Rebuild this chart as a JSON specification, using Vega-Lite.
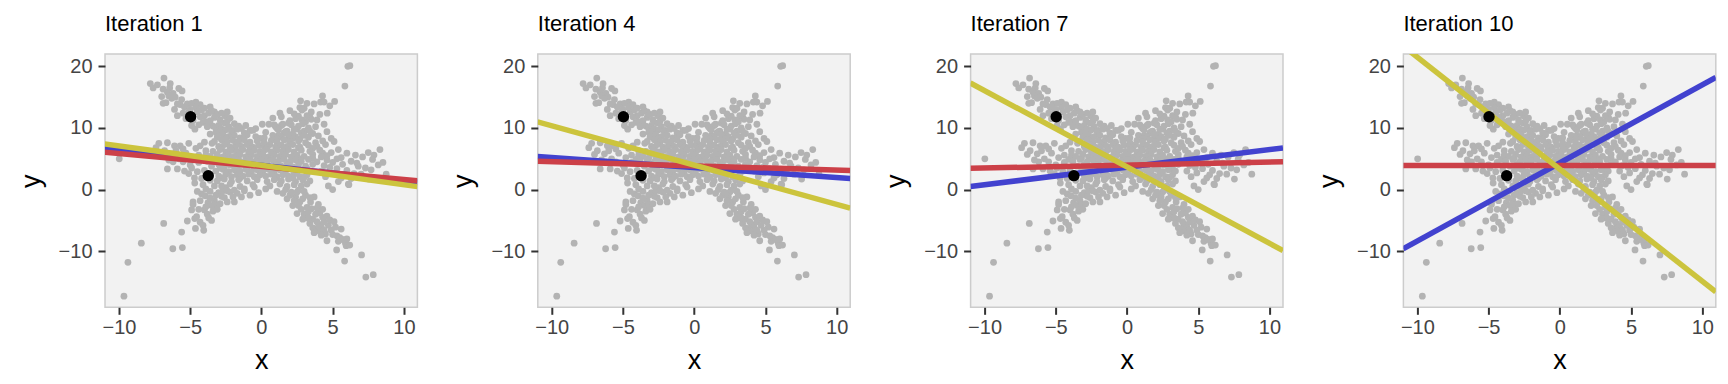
{
"$schema": "https://vega.github.io/schema/vega-lite/v6.json",
"background": "white",
"padding": {"left": 16, "top": 12, "right": 10, "bottom": 3},
"bounds": "flush",
"spacing": 119.8,
"config": {
  "view": {"fill": "#F2F2F2", "stroke": "#CCCCCC", "strokeWidth": 1.5},
  "title": {"anchor": "start", "frame": "group", "fontSize": 22, "font": "Liberation Sans", "fontWeight": "normal", "color": "#000000", "baseline": "alphabetic", "offset": 18},
  "axis": {"domain": false, "grid": false, "tickColor": "#333333", "tickWidth": 2, "tickSize": 7, "labelFont": "Liberation Sans", "labelFontSize": 20, "labelColor": "#444444", "titleFont": "Liberation Sans", "titleFontSize": 27, "titleFontWeight": "normal", "titleColor": "#000000", "labelFlush": false, "labelOverlap": false},
  "axisX": {"labelPadding": 3, "titlePadding": 10},
  "axisY": {"labelPadding": 6, "titlePadding": 13}
},
"datasets": {
  "pts": [
{"x":-9.65,"y":-17.3},{"x":-9.37,"y":-11.8},{"x":-8.43,"y":-8.7},{"x":-6.86,"y":-5.5},{"x":-6.22,"y":-9.6},{"x":-5.55,"y":-9.4},{"x":-5.6,"y":-6.9},{"x":-4.63,"y":-6.3},{"x":-4.05,"y":-6.6},{"x":-3.5,"y":-5.0},{"x":-4.68,"y":-4.7},{"x":-4.55,"y":-4.4},{"x":-4.8,"y":-2.0},{"x":-4.8,"y":-2.4},{"x":-4.2,"y":-0.7},{"x":-3.95,"y":-1.0},{"x":-3.75,"y":-2.1},{"x":-3.5,"y":-2.6},{"x":-3.3,"y":-1.8},{"x":-4.0,"y":-3.3},{"x":-3.9,"y":-2.8},{"x":-3.2,"y":-2.5},{"x":-2.9,"y":-2.3},{"x":-1.9,"y":-2.0},{"x":-1.4,"y":-1.2},{"x":-4.68,"y":1.05},{"x":-4.1,"y":0.8},{"x":-3.6,"y":-0.3},{"x":-3.0,"y":-0.5},{"x":-2.6,"y":-1.3},{"x":-2.2,"y":-0.4},{"x":-2.5,"y":0.3},{"x":-3.3,"y":0.6},{"x":-1.7,"y":-0.6},{"x":-3.8,"y":-4.0},{"x":-3.4,"y":-3.5},{"x":-4.4,"y":-3.2},
{"x":-2.0,"y":-1.2},{"x":-2.4,"y":-2.0},{"x":-2.8,"y":-1.1},{"x":-3.1,"y":-3.2},{"x":-3.6,"y":-1.4},{"x":-4.3,"y":-1.8},{"x":-4.5,"y":-0.3},{"x":-3.9,"y":0.1},{"x":-3.2,"y":-0.9},{"x":-2.7,"y":-0.2},{"x":-1.9,"y":-0.1},{"x":-4.9,"y":-3.3},{"x":-5.2,"y":-5.1},{"x":-4.3,"y":-5.3},{"x":-3.7,"y":-4.6},{"x":-4.1,"y":-5.8},
{"x":6.07,"y":20.0},{"x":6.21,"y":20.1},{"x":5.86,"y":16.8},{"x":4.29,"y":15.2},{"x":4.15,"y":14.2},{"x":4.4,"y":14.2},{"x":5.14,"y":14.3},{"x":4.62,"y":12.4},{"x":2.75,"y":14.4},{"x":2.7,"y":13.3},{"x":2.85,"y":12.9},{"x":3.0,"y":13.2},{"x":3.4,"y":11.8},{"x":3.5,"y":11.4},{"x":3.2,"y":12.0},{"x":3.1,"y":11.0},{"x":1.3,"y":12.4},{"x":1.4,"y":11.8},{"x":2.4,"y":11.5},{"x":2.6,"y":11.9},{"x":2.85,"y":11.3},{"x":4.4,"y":10.6},{"x":4.3,"y":7.9},{"x":3.6,"y":9.1},{"x":0.53,"y":10.6},{"x":0.9,"y":10.5},{"x":0.06,"y":10.6},{"x":1.0,"y":10.2},{"x":1.5,"y":10.6},{"x":1.9,"y":10.8},{"x":2.1,"y":10.5},{"x":3.8,"y":10.2},{"x":2.5,"y":9.8},{"x":3.0,"y":9.5},{"x":2.2,"y":9.0},{"x":1.6,"y":9.2},{"x":3.3,"y":8.5},{"x":4.0,"y":8.7},{"x":2.7,"y":8.2},{"x":1.2,"y":8.8},{"x":1.9,"y":8.1},
{"x":1.1,"y":9.9},{"x":1.4,"y":10.4},{"x":1.8,"y":9.5},{"x":2.0,"y":11.2},{"x":2.3,"y":12.3},{"x":2.6,"y":10.3},{"x":2.9,"y":10.7},{"x":3.3,"y":10.0},{"x":3.5,"y":12.6},{"x":3.9,"y":11.3},{"x":4.1,"y":12.2},{"x":3.7,"y":13.9},{"x":3.2,"y":14.0},{"x":2.0,"y":12.8},{"x":0.8,"y":11.6},{"x":4.8,"y":13.6},{"x":3.4,"y":9.5},{"x":4.6,"y":9.4},{"x":4.9,"y":8.3},{"x":3.8,"y":7.6},{"x":4.5,"y":7.3},{"x":5.1,"y":7.8},
{"x":-6.84,"y":18.1},{"x":-7.8,"y":17.2},{"x":-7.3,"y":17.0},{"x":-6.9,"y":16.3},{"x":-6.44,"y":16.5},{"x":-6.6,"y":15.8},{"x":-6.2,"y":15.6},{"x":-6.5,"y":15.2},{"x":-6.05,"y":15.0},{"x":-6.3,"y":14.8},{"x":-5.57,"y":16.0},{"x":-6.9,"y":14.0},{"x":-6.7,"y":14.1},{"x":-5.7,"y":13.8},{"x":-5.4,"y":13.4},{"x":-5.5,"y":12.4},{"x":-4.6,"y":14.2},{"x":-4.3,"y":13.8},{"x":-4.6,"y":13.3},{"x":-3.6,"y":13.4},{"x":-2.55,"y":12.0},{"x":-4.67,"y":9.8},{"x":-4.1,"y":10.9},{"x":-3.9,"y":11.0},{"x":-3.6,"y":10.6},{"x":-3.4,"y":10.3},{"x":-3.8,"y":10.2},{"x":-3.2,"y":10.0},{"x":-3.0,"y":10.4},{"x":-2.8,"y":9.8},{"x":-2.6,"y":10.8},{"x":-2.3,"y":10.2},{"x":-2.0,"y":9.6},{"x":-4.0,"y":12.0},{"x":-3.3,"y":11.7},{"x":-2.9,"y":11.3},{"x":-4.3,"y":11.8},{"x":-5.0,"y":13.0},{"x":-4.8,"y":11.2},
{"x":-5.9,"y":13.9},{"x":-5.6,"y":14.6},{"x":-5.2,"y":13.9},{"x":-5.1,"y":12.6},{"x":-4.9,"y":14.0},{"x":-4.5,"y":12.6},{"x":-4.2,"y":12.9},{"x":-4.0,"y":13.2},{"x":-3.7,"y":12.4},{"x":-3.5,"y":12.8},{"x":-3.3,"y":12.6},{"x":-3.1,"y":12.2},{"x":-2.8,"y":12.4},{"x":-2.4,"y":11.1},{"x":-2.2,"y":11.6},{"x":-1.9,"y":10.7},{"x":-1.6,"y":10.3},{"x":-1.4,"y":9.9},{"x":-1.1,"y":10.4},{"x":-0.8,"y":9.6},{"x":-0.4,"y":9.9},{"x":-3.6,"y":11.2},{"x":-4.4,"y":10.5},{"x":-5.3,"y":11.5},{"x":-4.9,"y":10.4},{"x":-5.9,"y":12.0},{"x":-6.1,"y":13.0},{"x":-5.8,"y":16.4},{"x":-7.0,"y":15.1},{"x":-7.6,"y":16.5},{"x":-6.4,"y":17.2},{"x":-3.2,"y":9.3},{"x":-3.6,"y":9.0},{"x":-2.4,"y":12.6},
{"x":7.33,"y":-14.2},{"x":7.85,"y":-13.8},{"x":7.03,"y":-10.6},{"x":5.84,"y":-11.6},{"x":5.28,"y":-9.8},{"x":5.9,"y":-8.7},{"x":5.95,"y":-9.1},{"x":5.4,"y":-8.4},{"x":5.3,"y":-7.5},{"x":5.5,"y":-7.8},{"x":5.2,"y":-6.1},{"x":4.6,"y":-8.3},{"x":4.5,"y":-7.2},{"x":4.9,"y":-6.6},{"x":4.2,"y":-6.0},{"x":4.0,"y":-5.6},{"x":3.8,"y":-6.4},{"x":3.4,"y":-5.5},{"x":3.1,"y":-4.6},{"x":3.6,"y":-4.8},{"x":4.4,"y":-5.2},{"x":4.7,"y":-5.8},{"x":3.0,"y":-4.0},{"x":3.3,"y":-3.6},{"x":2.8,"y":-3.2},{"x":2.5,"y":-3.9},{"x":3.7,"y":-1.2},{"x":3.45,"y":-2.0},{"x":4.1,"y":-3.8},{"x":4.3,"y":-4.5},{"x":2.2,"y":-2.6},{"x":2.7,"y":-2.0},{"x":3.9,"y":-3.0},{"x":1.8,"y":-1.5},{"x":2.4,"y":-1.2},{"x":4.1,"y":-6.8},{"x":3.6,"y":-6.2},
{"x":2.0,"y":-0.9},{"x":2.3,"y":-1.8},{"x":2.6,"y":-2.6},{"x":2.9,"y":-1.5},{"x":3.2,"y":-2.9},{"x":3.5,"y":-3.1},{"x":3.8,"y":-4.0},{"x":4.0,"y":-2.4},{"x":4.3,"y":-3.2},{"x":4.6,"y":-4.3},{"x":4.8,"y":-4.9},{"x":5.0,"y":-7.3},{"x":5.6,"y":-6.4},{"x":5.7,"y":-8.1},{"x":6.0,"y":-8.0},{"x":6.2,"y":-9.0},{"x":4.4,"y":-6.6},{"x":3.9,"y":-5.2},{"x":3.3,"y":-4.6},{"x":2.9,"y":-4.8},{"x":3.7,"y":-7.0},{"x":4.2,"y":-7.4},{"x":5.1,"y":-5.2},{"x":1.5,"y":-0.6},{"x":2.5,"y":-0.4},{"x":3.1,"y":-0.9},{"x":3.4,"y":-1.3},
{"x":8.32,"y":6.5},{"x":8.76,"y":2.5},{"x":8.53,"y":4.4},{"x":7.54,"y":1.7},{"x":6.14,"y":0.8},{"x":4.7,"y":0.6},{"x":5.0,"y":0.0},{"x":5.4,"y":1.3},{"x":6.1,"y":0.9},{"x":7.5,"y":6.0},{"x":7.9,"y":5.6},{"x":7.1,"y":5.3},{"x":6.6,"y":5.6},{"x":7.8,"y":4.9},{"x":8.2,"y":4.0},{"x":6.3,"y":4.6},{"x":5.4,"y":6.5},{"x":4.9,"y":6.0},{"x":5.3,"y":3.4},{"x":6.0,"y":3.1},{"x":6.8,"y":3.8},{"x":7.3,"y":3.5},{"x":5.8,"y":2.4},{"x":5.6,"y":5.2},{"x":4.6,"y":4.8},{"x":4.2,"y":3.0},{"x":6.5,"y":2.6},
{"x":4.3,"y":5.9},{"x":4.6,"y":5.5},{"x":5.0,"y":4.4},{"x":5.3,"y":5.0},{"x":5.7,"y":4.1},{"x":6.0,"y":5.9},{"x":6.7,"y":4.3},{"x":7.0,"y":2.5},{"x":4.5,"y":2.1},{"x":4.9,"y":2.7},{"x":5.6,"y":1.9},{"x":6.3,"y":1.8},{"x":7.7,"y":3.2},{"x":4.4,"y":3.9},{"x":4.8,"y":3.6},
{"x":-9.98,"y":5.0},{"x":-7.2,"y":7.5},{"x":-6.6,"y":7.6},{"x":-6.1,"y":7.1},{"x":-5.7,"y":7.1},{"x":-6.6,"y":3.35},{"x":-5.9,"y":3.35},{"x":-5.5,"y":4.5},{"x":-5.0,"y":4.0},{"x":-7.0,"y":5.7},{"x":-6.3,"y":5.8},{"x":-6.8,"y":6.3},{"x":-5.3,"y":5.9},{"x":-4.8,"y":5.2},{"x":-4.4,"y":4.4},{"x":-4.0,"y":3.1},{"x":-4.2,"y":1.8},{"x":-3.6,"y":1.5},{"x":-5.1,"y":2.6},{"x":-4.5,"y":2.9},{"x":-4.0,"y":7.7},{"x":-3.47,"y":7.5},{"x":-3.9,"y":6.3},{"x":-4.6,"y":6.7},{"x":-5.8,"y":5.0},{"x":-6.2,"y":4.5},
{"x":-5.5,"y":6.6},{"x":-6.0,"y":6.3},{"x":-4.4,"y":5.6},{"x":-4.9,"y":3.5},{"x":-5.4,"y":3.0},{"x":-4.1,"y":4.9},{"x":-3.9,"y":5.6},{"x":-4.3,"y":7.1},{"x":-5.1,"y":7.5},{"x":-6.5,"y":4.8},{"x":-7.4,"y":6.8},{"x":-4.7,"y":1.9},{"x":-3.8,"y":2.4},
{"x":-1.2,"y":-0.2},{"x":-0.8,"y":-0.9},{"x":-0.2,"y":-0.5},{"x":0.3,"y":0.1},{"x":-0.5,"y":0.4},
{"x":-2.9,"y":9.3},{"x":-2.5,"y":9.7},{"x":-2.1,"y":9.4},{"x":-1.7,"y":9.8},{"x":-1.2,"y":9.2},{"x":-0.6,"y":9.6},{"x":0.3,"y":9.3},{"x":1.2,"y":9.7},{"x":1.7,"y":9.4},{"x":2.3,"y":9.8},{"x":2.8,"y":9.2},
{"x":-3.1,"y":8.5},{"x":-2.7,"y":8.9},{"x":-2.3,"y":8.6},{"x":-1.9,"y":8.8},{"x":-1.5,"y":8.4},{"x":-1.0,"y":8.9},{"x":-0.4,"y":8.6},{"x":0.2,"y":8.4},{"x":0.8,"y":8.8},{"x":1.4,"y":8.5},{"x":1.9,"y":8.9},{"x":2.4,"y":8.6},{"x":3.0,"y":8.8},
{"x":-2.5,"y":8.3},{"x":-1.3,"y":8.2},{"x":-0.1,"y":8.3},{"x":1.1,"y":8.2},{"x":2.2,"y":8.3},
{"x":-3.3,"y":7.8},{"x":-2.8,"y":8.1},{"x":-2.4,"y":7.7},{"x":-2.0,"y":8.0},{"x":-1.6,"y":7.8},{"x":-1.2,"y":8.1},{"x":-0.8,"y":7.7},{"x":-0.3,"y":7.9},{"x":0.2,"y":7.6},{"x":0.7,"y":8.0},{"x":1.1,"y":7.7},{"x":1.6,"y":8.1},{"x":2.0,"y":7.8},{"x":2.6,"y":7.9},{"x":3.1,"y":7.6},
{"x":-3.0,"y":7.0},{"x":-2.6,"y":7.3},{"x":-2.2,"y":6.9},{"x":-1.8,"y":7.2},{"x":-1.4,"y":7.0},{"x":-1.0,"y":7.3},{"x":-0.6,"y":6.9},{"x":-0.2,"y":7.2},{"x":0.2,"y":7.0},{"x":0.6,"y":7.3},{"x":1.0,"y":6.9},{"x":1.4,"y":7.2},{"x":1.8,"y":7.0},{"x":2.2,"y":7.3},{"x":2.7,"y":6.9},{"x":3.3,"y":7.2},{"x":3.9,"y":7.0},
{"x":-2.8,"y":6.7},{"x":-1.9,"y":6.8},{"x":-0.8,"y":6.7},{"x":0.4,"y":6.8},{"x":1.6,"y":6.7},{"x":2.6,"y":6.8},{"x":3.6,"y":6.7},
{"x":-3.4,"y":6.2},{"x":-2.9,"y":6.5},{"x":-2.5,"y":6.1},{"x":-2.1,"y":6.4},{"x":-1.7,"y":6.2},{"x":-1.3,"y":6.5},{"x":-0.9,"y":6.1},{"x":-0.5,"y":6.4},{"x":-0.1,"y":6.2},{"x":0.3,"y":6.5},{"x":0.7,"y":6.1},{"x":1.1,"y":6.4},{"x":1.5,"y":6.2},{"x":1.9,"y":6.5},{"x":2.3,"y":6.1},{"x":2.8,"y":6.4},{"x":3.4,"y":6.2},{"x":4.1,"y":6.4},
{"x":-3.6,"y":5.4},{"x":-3.1,"y":5.7},{"x":-2.7,"y":5.3},{"x":-2.3,"y":5.6},{"x":-1.9,"y":5.4},{"x":-1.5,"y":5.7},{"x":-1.1,"y":5.3},{"x":-0.7,"y":5.6},{"x":-0.3,"y":5.4},{"x":0.1,"y":5.7},{"x":0.5,"y":5.3},{"x":0.9,"y":5.6},{"x":1.3,"y":5.4},{"x":1.7,"y":5.7},{"x":2.1,"y":5.3},{"x":2.5,"y":5.6},{"x":3.0,"y":5.4},{"x":3.6,"y":5.7},{"x":4.2,"y":5.3},
{"x":-3.2,"y":5.1},{"x":-2.1,"y":5.0},{"x":-0.9,"y":5.1},{"x":0.3,"y":5.0},{"x":1.5,"y":5.1},{"x":2.7,"y":5.0},{"x":3.6,"y":5.1},
{"x":-3.8,"y":4.6},{"x":-3.3,"y":4.9},{"x":-2.8,"y":4.5},{"x":-2.4,"y":4.8},{"x":-2.0,"y":4.6},{"x":-1.6,"y":4.9},{"x":-1.2,"y":4.5},{"x":-0.8,"y":4.8},{"x":-0.4,"y":4.6},{"x":0.0,"y":4.9},{"x":0.4,"y":4.5},{"x":0.8,"y":4.8},{"x":1.2,"y":4.6},{"x":1.6,"y":4.9},{"x":2.0,"y":4.5},{"x":2.4,"y":4.8},{"x":2.8,"y":4.6},{"x":3.3,"y":4.9},{"x":3.9,"y":4.5},
{"x":-3.5,"y":3.8},{"x":-3.0,"y":4.1},{"x":-2.6,"y":3.7},{"x":-2.2,"y":4.0},{"x":-1.8,"y":3.8},{"x":-1.4,"y":4.1},{"x":-1.0,"y":3.7},{"x":-0.6,"y":4.0},{"x":-0.2,"y":3.8},{"x":0.2,"y":4.1},{"x":0.6,"y":3.7},{"x":1.0,"y":4.0},{"x":1.4,"y":3.8},{"x":1.8,"y":4.1},{"x":2.2,"y":3.7},{"x":2.6,"y":4.0},{"x":3.1,"y":3.8},{"x":3.6,"y":4.1},
{"x":-2.9,"y":3.5},{"x":-1.7,"y":3.4},{"x":-0.5,"y":3.5},{"x":0.8,"y":3.4},{"x":2.0,"y":3.5},{"x":3.2,"y":3.4},
{"x":-3.2,"y":3.0},{"x":-2.7,"y":3.3},{"x":-2.3,"y":2.9},{"x":-1.9,"y":3.2},{"x":-1.5,"y":3.0},{"x":-1.1,"y":3.3},{"x":-0.7,"y":2.9},{"x":-0.3,"y":3.2},{"x":0.1,"y":3.0},{"x":0.5,"y":3.3},{"x":0.9,"y":2.9},{"x":1.3,"y":3.2},{"x":1.7,"y":3.0},{"x":2.1,"y":3.3},{"x":2.5,"y":2.9},{"x":2.9,"y":3.2},{"x":3.4,"y":3.0},
{"x":-3.0,"y":2.2},{"x":-2.5,"y":2.5},{"x":-2.1,"y":2.1},{"x":-1.7,"y":2.4},{"x":-1.3,"y":2.2},{"x":-0.9,"y":2.5},{"x":-0.5,"y":2.1},{"x":-0.1,"y":2.4},{"x":0.3,"y":2.2},{"x":0.7,"y":2.5},{"x":1.1,"y":2.1},{"x":1.5,"y":2.4},{"x":1.9,"y":2.2},{"x":2.3,"y":2.5},{"x":2.7,"y":2.1},{"x":3.2,"y":2.4},
{"x":-2.8,"y":1.9},{"x":-1.5,"y":1.9},{"x":-0.3,"y":2.0},{"x":1.0,"y":1.9},{"x":2.2,"y":1.9},{"x":3.0,"y":2.0},
{"x":-3.1,"y":1.4},{"x":-2.6,"y":1.7},{"x":-2.1,"y":1.3},{"x":-1.6,"y":1.6},{"x":-1.0,"y":1.4},{"x":-0.3,"y":1.6},{"x":0.4,"y":1.3},{"x":0.9,"y":1.6},{"x":1.4,"y":1.4},{"x":1.9,"y":1.7},{"x":2.4,"y":1.3},{"x":2.9,"y":1.6},{"x":3.4,"y":1.4},
{"x":-2.8,"y":0.6},{"x":-2.2,"y":0.9},{"x":-1.5,"y":0.5},{"x":-0.6,"y":0.8},{"x":0.6,"y":0.6},{"x":1.3,"y":0.9},{"x":1.8,"y":0.5},{"x":2.3,"y":0.8},{"x":2.8,"y":0.6},{"x":3.2,"y":0.9},
{"x":-2.4,"y":-0.2},{"x":-1.2,"y":0.1},{"x":1.1,"y":-0.3},{"x":1.7,"y":0.0},{"x":2.1,"y":-0.4},{"x":2.6,"y":-0.1},{"x":3.0,"y":-0.3}
  ],
  "blk": [{"x":-4.97,"y":11.83},{"x":-3.73,"y":2.26}],
  "lines": [
{"it":1,"c":"blue","x":-11,"y":6.7},{"it":1,"c":"blue","x":10.95,"y":1.2},
{"it":1,"c":"red","x":-11,"y":6.05},{"it":1,"c":"red","x":10.95,"y":1.45},
{"it":1,"c":"yellow","x":-11,"y":7.4},{"it":1,"c":"yellow","x":10.95,"y":0.48},
{"it":4,"c":"blue","x":-11,"y":5.35},{"it":4,"c":"blue","x":10.95,"y":1.8},
{"it":4,"c":"red","x":-11,"y":4.6},{"it":4,"c":"red","x":10.95,"y":3.1},
{"it":4,"c":"yellow","x":-11,"y":11.0},{"it":4,"c":"yellow","x":10.95,"y":-3.0},
{"it":7,"c":"blue","x":-11,"y":0.5},{"it":7,"c":"blue","x":10.95,"y":6.75},
{"it":7,"c":"red","x":-11,"y":3.45},{"it":7,"c":"red","x":10.95,"y":4.5},
{"it":7,"c":"yellow","x":-11,"y":17.3},{"it":7,"c":"yellow","x":10.95,"y":-9.9},
{"it":10,"c":"blue","x":-11,"y":-9.6},{"it":10,"c":"blue","x":10.95,"y":18.2},
{"it":10,"c":"red","x":-11,"y":3.9},{"it":10,"c":"red","x":10.95,"y":3.9},
{"it":10,"c":"yellow","x":-11,"y":23.3},{"it":10,"c":"yellow","x":10.95,"y":-16.6}
  ]
},
"hconcat": [
{"width": 312.4, "height": 253.3, "title": {"text": "Iteration 1"},
 "layer": [
  {"data": {"name": "pts"}, "mark": {"type": "circle", "size": 46, "opacity": 1, "color": "#B3B3B3"},
   "encoding": {"x": {"field": "x", "type": "quantitative", "scale": {"domain": [-10.98, 10.95], "nice": false, "zero": false}, "axis": {"values": [-10, -5, 0, 5, 10]}},
                "y": {"field": "y", "type": "quantitative", "scale": {"domain": [-19.1, 22.0], "nice": false, "zero": false}, "axis": {"values": [-10, 0, 10, 20]}}}},
  {"data": {"name": "lines"}, "transform": [{"filter": "datum.it == 1"}], "mark": {"type": "line", "strokeWidth": 5.5, "clip": true},
   "encoding": {"x": {"field": "x", "type": "quantitative"}, "y": {"field": "y", "type": "quantitative"},
                "color": {"field": "c", "type": "nominal", "scale": {"domain": ["blue", "red", "yellow"], "range": ["#4242CF", "#CC4048", "#CCC43D"]}, "legend": null}}},
  {"data": {"name": "blk"}, "mark": {"type": "circle", "size": 130, "opacity": 1, "color": "#000000"},
   "encoding": {"x": {"field": "x", "type": "quantitative"}, "y": {"field": "y", "type": "quantitative"}}}
 ]},
{"width": 312.4, "height": 253.3, "title": {"text": "Iteration 4"},
 "layer": [
  {"data": {"name": "pts"}, "mark": {"type": "circle", "size": 46, "opacity": 1, "color": "#B3B3B3"},
   "encoding": {"x": {"field": "x", "type": "quantitative", "scale": {"domain": [-10.98, 10.95], "nice": false, "zero": false}, "axis": {"values": [-10, -5, 0, 5, 10]}},
                "y": {"field": "y", "type": "quantitative", "scale": {"domain": [-19.1, 22.0], "nice": false, "zero": false}, "axis": {"values": [-10, 0, 10, 20]}}}},
  {"data": {"name": "lines"}, "transform": [{"filter": "datum.it == 4"}], "mark": {"type": "line", "strokeWidth": 5.5, "clip": true},
   "encoding": {"x": {"field": "x", "type": "quantitative"}, "y": {"field": "y", "type": "quantitative"},
                "color": {"field": "c", "type": "nominal", "scale": {"domain": ["blue", "red", "yellow"], "range": ["#4242CF", "#CC4048", "#CCC43D"]}, "legend": null}}},
  {"data": {"name": "blk"}, "mark": {"type": "circle", "size": 130, "opacity": 1, "color": "#000000"},
   "encoding": {"x": {"field": "x", "type": "quantitative"}, "y": {"field": "y", "type": "quantitative"}}}
 ]},
{"width": 312.4, "height": 253.3, "title": {"text": "Iteration 7"},
 "layer": [
  {"data": {"name": "pts"}, "mark": {"type": "circle", "size": 46, "opacity": 1, "color": "#B3B3B3"},
   "encoding": {"x": {"field": "x", "type": "quantitative", "scale": {"domain": [-10.98, 10.95], "nice": false, "zero": false}, "axis": {"values": [-10, -5, 0, 5, 10]}},
                "y": {"field": "y", "type": "quantitative", "scale": {"domain": [-19.1, 22.0], "nice": false, "zero": false}, "axis": {"values": [-10, 0, 10, 20]}}}},
  {"data": {"name": "lines"}, "transform": [{"filter": "datum.it == 7"}], "mark": {"type": "line", "strokeWidth": 5.5, "clip": true},
   "encoding": {"x": {"field": "x", "type": "quantitative"}, "y": {"field": "y", "type": "quantitative"},
                "color": {"field": "c", "type": "nominal", "scale": {"domain": ["blue", "red", "yellow"], "range": ["#4242CF", "#CC4048", "#CCC43D"]}, "legend": null}}},
  {"data": {"name": "blk"}, "mark": {"type": "circle", "size": 130, "opacity": 1, "color": "#000000"},
   "encoding": {"x": {"field": "x", "type": "quantitative"}, "y": {"field": "y", "type": "quantitative"}}}
 ]},
{"width": 312.4, "height": 253.3, "title": {"text": "Iteration 10"},
 "layer": [
  {"data": {"name": "pts"}, "mark": {"type": "circle", "size": 46, "opacity": 1, "color": "#B3B3B3"},
   "encoding": {"x": {"field": "x", "type": "quantitative", "scale": {"domain": [-10.98, 10.95], "nice": false, "zero": false}, "axis": {"values": [-10, -5, 0, 5, 10]}},
                "y": {"field": "y", "type": "quantitative", "scale": {"domain": [-19.1, 22.0], "nice": false, "zero": false}, "axis": {"values": [-10, 0, 10, 20]}}}},
  {"data": {"name": "lines"}, "transform": [{"filter": "datum.it == 10"}], "mark": {"type": "line", "strokeWidth": 5.5, "clip": true},
   "encoding": {"x": {"field": "x", "type": "quantitative"}, "y": {"field": "y", "type": "quantitative"},
                "color": {"field": "c", "type": "nominal", "scale": {"domain": ["blue", "red", "yellow"], "range": ["#4242CF", "#CC4048", "#CCC43D"]}, "legend": null}}},
  {"data": {"name": "blk"}, "mark": {"type": "circle", "size": 130, "opacity": 1, "color": "#000000"},
   "encoding": {"x": {"field": "x", "type": "quantitative"}, "y": {"field": "y", "type": "quantitative"}}}
 ]}
]
}
